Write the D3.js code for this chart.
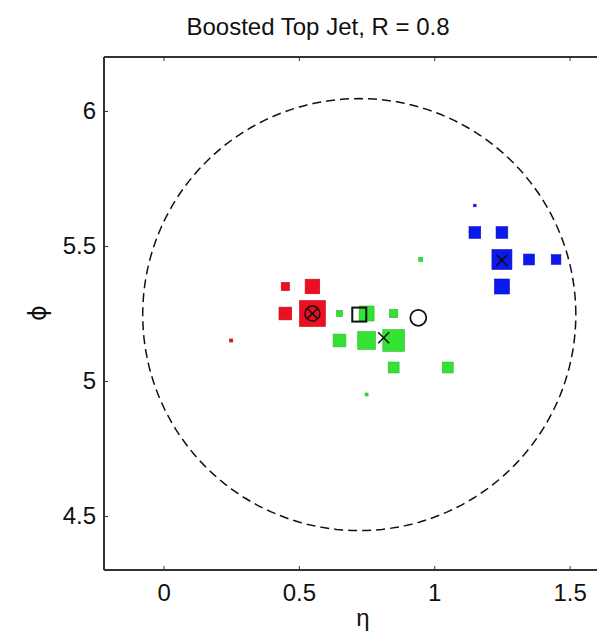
<!DOCTYPE html>
<html>
<head>
<meta charset="utf-8">
<script src="https://cdn.jsdelivr.net/npm/d3@7"></script>
<style>
  body { margin: 0; background: #fff; }
  text { font-family: "Liberation Sans", Arial, Helvetica, sans-serif; fill: #111; }
</style>
</head>
<body>
<svg id="chart" width="597" height="631"></svg>
<script>
// constituents, one cell per entry (eta, phi, pT weight)
const redEta = [0.45, 0.55, 0.45, 0.55, 0.25];
const redPhi = [5.35, 5.35, 5.25, 5.25, 5.15];
const redPt  = [11, 34, 26, 108, 1.5];

const greenEta = [0.95, 0.65, 0.75, 0.85, 0.65, 0.75, 0.85, 0.85, 1.05, 0.75];
const greenPhi = [5.45, 5.25, 5.25, 5.25, 5.15, 5.15, 5.15, 5.05, 5.05, 4.95];
const greenPt  = [2.6, 5.8, 36, 11, 26, 50, 75, 19, 19, 1.4];

const blueEta = [1.15, 1.15, 1.25, 1.25, 1.35, 1.45, 1.25];
const bluePhi = [5.65, 5.55, 5.55, 5.45, 5.45, 5.45, 5.35];
const bluePt  = [1, 22, 22, 64, 19, 15, 36];

// reference markers
const jetAxis = [0.723, 5.246];
const jetR = 0.8;
const otimesPts = [[0.55, 5.25]];
const crossPts = [[0.813, 5.16], [1.25, 5.447]];
const circlePts = [[0.941, 5.234]];

const xTicks = [0, 0.5, 1, 1.5];
const yTicks = [4.5, 5, 5.5, 6];

const svg = d3.select("#chart");

let x = d3.scaleLinear().domain([-0.22, 1.7]).range([104, 104 + 1.92 * 270.7]);
let y = d3.scaleLinear().domain([4.3, 6.2]).range([570, 57]);
let side = d3.scaleSqrt().domain([0, 100]).range([0, 25]);

// title
svg.append("text")
  .attr("x", 318)
  .attr("y", 35)
  .attr("text-anchor", "middle")
  .style("font-size", "24px")
  .text("Boosted Top Jet, R = 0.8");

// jet cone
let angles = d3.range(0, 361, 2);
let cone = d3.line()
  .x(a => x(jetAxis[0] + jetR * Math.cos(a * Math.PI / 180)))
  .y(a => y(jetAxis[1] + jetR * Math.sin(a * Math.PI / 180)));

svg.append("path")
  .attr("d", cone(angles))
  .attr("fill", "none")
  .attr("stroke", "#111")
  .attr("stroke-width", 1.5)
  .attr("stroke-dasharray", "9,5");

function drawCells(etas, phis, pts, color)
{
  svg.append("g")
    .selectAll("rect")
    .data(etas)
    .enter()
    .append("rect")
    .attr("x", (d, i) => x(d) - side(pts[i]) / 2)
    .attr("y", (d, i) => y(phis[i]) - side(pts[i]) / 2)
    .attr("width", (d, i) => side(pts[i]))
    .attr("height", (d, i) => side(pts[i]))
    .attr("fill", color)
    .attr("stroke", d3.color(color).darker(0.6))
    .attr("stroke-width", 0.6);
}

drawCells(redEta, redPhi, redPt, "#ec0f22");
drawCells(greenEta, greenPhi, greenPt, "#33e233");
drawCells(blueEta, bluePhi, bluePt, "#0b18ee");

// markers
let mk = svg.append("g").attr("fill", "none").attr("stroke", "#111");

mk.append("rect")
  .attr("x", x(jetAxis[0]) - 7)
  .attr("y", y(jetAxis[1]) - 7)
  .attr("width", 14)
  .attr("height", 14)
  .attr("stroke-width", 2);

circlePts.forEach(p => {
  mk.append("circle")
    .attr("cx", x(p[0])).attr("cy", y(p[1])).attr("r", 8)
    .attr("stroke-width", 1.8);
});

function cross(cx, cy, h, w)
{
  mk.append("path")
    .attr("d", `M${cx - h},${cy - h}L${cx + h},${cy + h}M${cx - h},${cy + h}L${cx + h},${cy - h}`)
    .attr("stroke-width", w);
}

otimesPts.forEach(p => {
  mk.append("circle")
    .attr("cx", x(p[0])).attr("cy", y(p[1])).attr("r", 7.5)
    .attr("stroke-width", 1.5);
  cross(x(p[0]), y(p[1]), 4.6, 1.5);
});

crossPts.forEach(p => cross(x(p[0]), y(p[1]), 5.5, 1.6));

// axes
let axisColor = "#333";
let axBottom = svg.append("g").attr("transform", "translate(0,570)")
  .call(d3.axisBottom(x).tickValues(xTicks).tickSize(-4).tickPadding(14).tickFormat(d3.format("")));
let axTop = svg.append("g").attr("transform", "translate(0,57)")
  .call(d3.axisTop(x).tickValues(xTicks).tickSize(-4).tickFormat(""));
let axLeft = svg.append("g").attr("transform", "translate(104,0)")
  .call(d3.axisLeft(y).tickValues(yTicks).tickSize(-4).tickPadding(8).tickFormat(d3.format("")));

[axBottom, axTop, axLeft].forEach(g => {
  g.select(".domain").attr("stroke", axisColor).attr("stroke-width", 2);
  g.selectAll(".tick line").attr("stroke", axisColor).attr("stroke-width", 1);
  g.selectAll(".tick text").style("font-size", "24px").style("font-family", "Liberation Sans, Arial, sans-serif").attr("fill", "#111");
});
// plain domain lines, no end caps
axBottom.select(".domain").attr("d", `M${x.range()[0]},0H${x.range()[1]}`);
axTop.select(".domain").attr("d", `M${x.range()[0]},0H${x.range()[1]}`);
axLeft.select(".domain").attr("d", `M0,${y.range()[0]}V${y.range()[1]}`);

// axis labels
svg.append("text")
  .attr("x", 363)
  .attr("y", 626)
  .attr("text-anchor", "middle")
  .style("font-size", "24px")
  .text("η");

svg.append("text")
  .attr("transform", "translate(46,313) rotate(-90)")
  .attr("text-anchor", "middle")
  .style("font-size", "24px")
  .style("font-family", "DejaVu Sans, sans-serif")
  .text("ϕ");
</script>
</body>
</html>
